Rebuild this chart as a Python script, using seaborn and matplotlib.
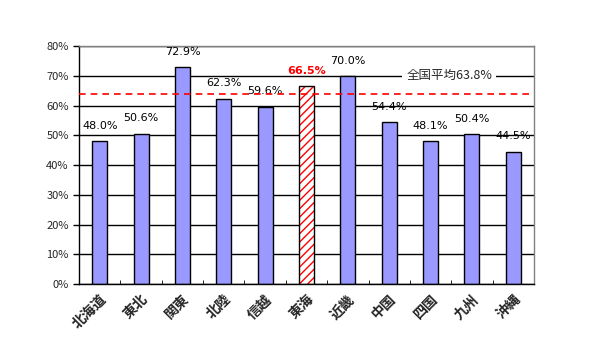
import matplotlib
matplotlib.use("Agg")
import matplotlib.pyplot as plt
import seaborn as sns
from matplotlib.patches import Rectangle
from matplotlib.ticker import FuncFormatter, MultipleLocator

# data
regions = ["北海道", "東北", "関東", "北陸", "信越", "東海", "近畿", "中国", "四国", "九州", "沖縄"]
rates = [48.0, 50.6, 72.9, 62.3, 59.6, 66.5, 70.0, 54.4, 48.1, 50.4, 44.5]
highlight = "東海"
national_avg = 63.8

sns.set_style("white")
plt.rcParams['font.family'] = ['Noto Sans CJK JP', 'DejaVu Sans']

fig = plt.figure(figsize=(5.9, 3.6), dpi=100)
ax = fig.add_axes([0.134, 0.211, 0.771, 0.661])

sns.barplot(x=regions, y=rates, color="#9999ff", edgecolor="black",
            linewidth=1, width=0.36, saturation=1, ax=ax, zorder=2)

# highlighted bar: red hatch on white
hi = regions.index(highlight)
p = ax.patches[hi]
p.set_facecolor("white")
p.set_edgecolor("red")
p.set_hatch("////")
p.set_linewidth(0)
ax.add_patch(Rectangle(p.get_xy(), p.get_width(), p.get_height(),
                       fill=False, edgecolor="black", linewidth=1, zorder=3))

# value labels
for i, (bar, v) in enumerate(zip(ax.patches[:len(rates)], rates)):
    is_hi = i == hi
    ax.annotate(f"{v:.1f}%", (bar.get_x() + bar.get_width() / 2, v),
                xytext=(0, 11), textcoords="offset points", ha="center", va="center",
                fontsize=8, color="red" if is_hi else "black",
                fontweight="bold" if is_hi else "normal", family="DejaVu Sans")

# national average
ax.axhline(national_avg, color="red", linestyle=(0, (4, 3)), linewidth=1.2, zorder=4)
ax.text(8.45, 70, f"全国平均{national_avg}%", ha="center", va="center", fontsize=9,
        bbox=dict(facecolor="white", edgecolor="none", pad=3), zorder=5)

ax.set_ylim(0, 80)
ax.set_xlim(-0.5, len(regions) - 0.5)
ax.yaxis.set_major_locator(MultipleLocator(10))
ax.yaxis.set_major_formatter(FuncFormatter(lambda v, _: f"{v:.0f}%"))
ax.yaxis.grid(True, color="black", linewidth=1)
ax.set_axisbelow(True)

ax.tick_params(axis="y", direction="out", length=4, width=1, labelsize=8, left=True, color="black")
ax.tick_params(axis="x", length=0, labelsize=10, pad=6)
ax.set_xticks(range(len(regions)))
ax.set_xticklabels(regions, rotation=45, ha="right", rotation_mode="anchor", fontweight="bold")
ax.set_xticks([i + 0.5 for i in range(len(regions) - 1)], minor=True)
ax.tick_params(axis="x", which="minor", direction="in", length=3, bottom=True, color="black")

for s in ["left", "bottom"]:
    ax.spines[s].set_color("black")
    ax.spines[s].set_linewidth(1)
for s in ["top", "right"]:
    ax.spines[s].set_color("#808080")
    ax.spines[s].set_linewidth(1)

fig.savefig("out.png", dpi=100)
